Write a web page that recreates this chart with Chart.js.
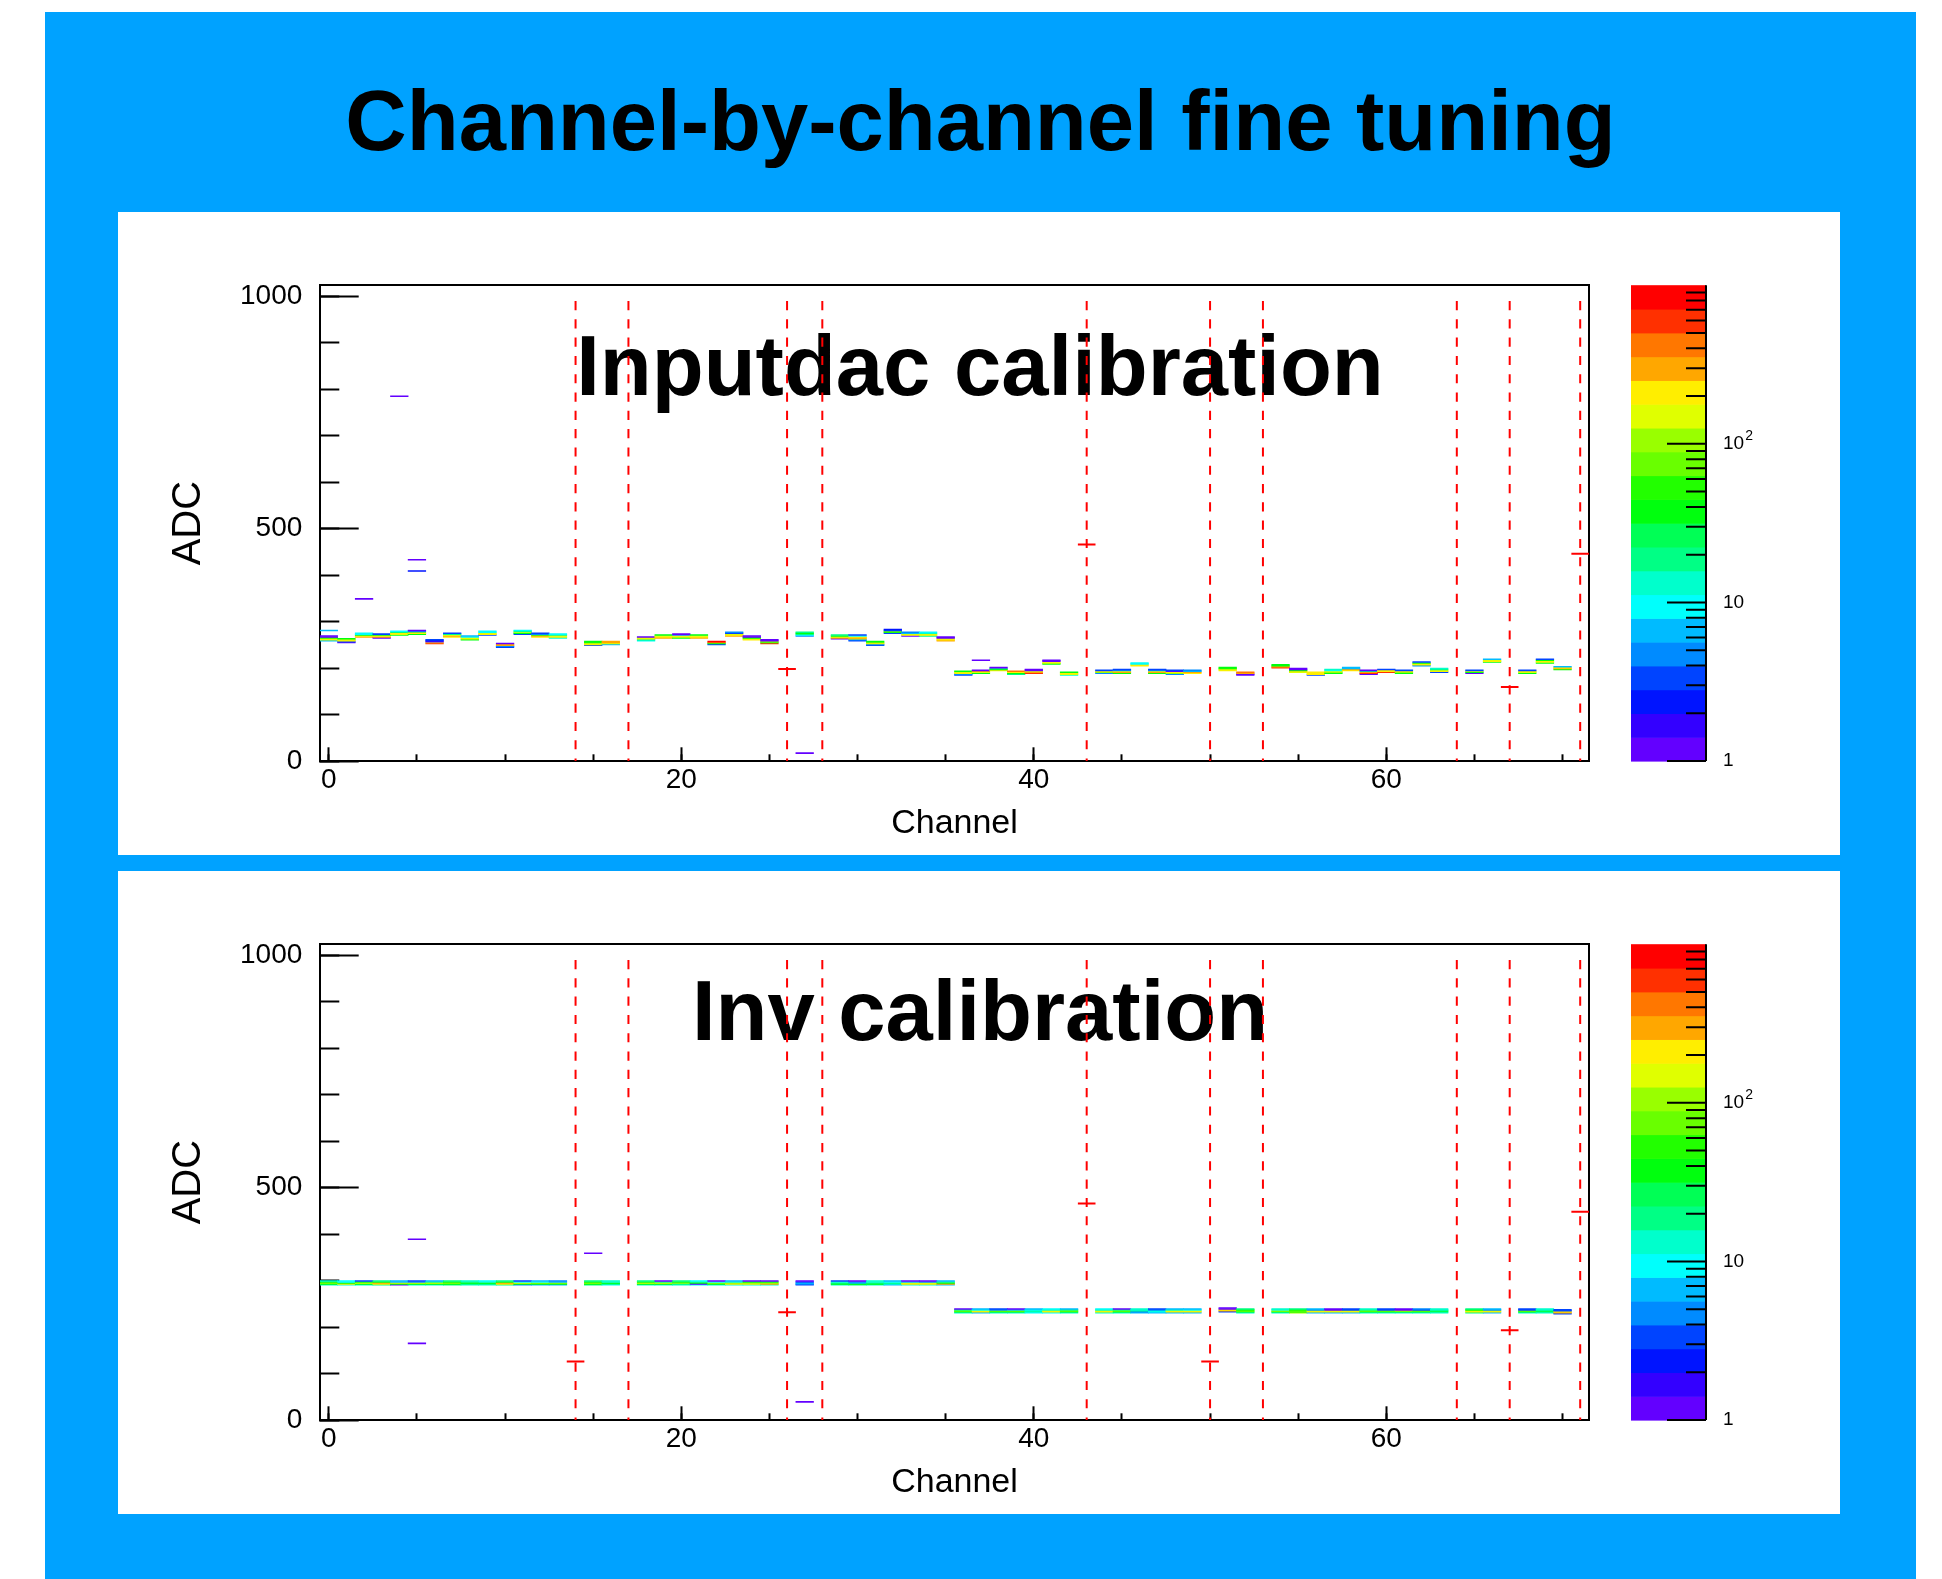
<!DOCTYPE html>
<html>
<head>
<meta charset="utf-8">
<title>Channel-by-channel fine tuning</title>
<script src="https://cdn.jsdelivr.net/npm/chart.js@4.4.1/dist/chart.umd.min.js"></script>
<style>
  html, body { margin: 0; padding: 0; background: #ffffff; }
  body { width: 1942px; height: 1579px; position: relative; overflow: hidden;
         font-family: "Liberation Sans", Arial, Helvetica, sans-serif; }
  #slide { position: absolute; left: 45px; top: 12px; width: 1871px; height: 1567px; background: #00A2FF; }
  .title { position: absolute; left: 45px; width: 1871px; text-align: center; font-weight: bold;
           color: #000; white-space: nowrap; font-size: 85px; line-height: 85px; }
  #mainTitle { top: 78px; }
  .panel { position: absolute; left: 118px; width: 1722px; height: 643px; background: #ffffff; }
  .ptitle { position: absolute; left: 0; width: 1724px; text-align: center; font-weight: bold; color: #000;
            white-space: nowrap; font-size: 85px; line-height: 85px; z-index: 0; }
  .panel canvas { position: absolute; left: 0; top: 0; z-index: 1; }
</style>
</head>
<body>
<div id="slide"></div>
<div class="title" id="mainTitle">Channel-by-channel fine tuning</div>

<div class="panel" style="top:212px">
  <div class="ptitle" style="top:111px">Inputdac calibration</div>
  <canvas id="inputdacChart" width="1722" height="643"></canvas>
</div>

<div class="panel" style="top:871px">
  <div class="ptitle" style="top:97px">Inv calibration</div>
  <canvas id="invChart" width="1722" height="643"></canvas>
</div>

<script>
// ---------------------------------------------------------------------------
// Data
// ---------------------------------------------------------------------------
const channels = [0,1,2,3,4,5,6,7,8,9,10,11,12,13,14,15,16,17,18,19,20,21,22,23,24,25,26,27,28,29,
  30,31,32,33,34,35,36,37,38,39,40,41,42,43,44,45,46,47,48,49,50,51,52,53,54,55,56,57,58,59,
  60,61,62,63,64,65,66,67,68,69,70,71];

// masked channels, marked with dashed red guides
const deadChannels = [14, 17, 26, 28, 43, 50, 53, 64, 67, 71];

// ADC histogram bin width
const ADC_BIN = 2;

// Inputdac calibration: lowest filled ADC bin per channel (null = masked)
const inputdacLow = [258,254,266,264,270,272,252,266,260,270,244,272,266,264,null,248,250,null,258,264,
  264,264,250,268,260,252,null,268,null,262,258,248,274,268,268,258,184,188,194,186,
  188,208,184,null,188,188,204,188,186,188,null,194,184,null,200,190,184,188,194,186,
  190,188,204,190,null,188,212,null,188,210,196,null];

// entries per ADC bin, from the lowest filled bin upward
const inputdacCounts = [
  [7,150,250,60,1,1], [1,3,250,130,40], [300,250,40,10,10], [1,350,200,40,3], [40,150,250,30,10],
  [40,250,100,5,1], [700,200,1,2,3], [220,300,150,20,3], [40,220,150,8,7], [3,220,150,10,10],
  [3,5,350,300,1], [3,40,150,20,10], [220,300,60,5,3], [14,220,150,20,10], null,
  [3,220,150,50,40], [7,150,300,350], null, [10,20,220,150,1], [300,220,150,40],
  [40,150,220,5,1], [300,220,150,40], [3,40,300,800], [300,220,150,3,5], [220,150,40,1,1],
  [700,40,100,1,1], null, [5,10,20,40,20], null, [1,300,150,40,20],
  [3,5,150,300,220,10,3], [3,5,220,110,40], [3,40,75,3,2], [1,220,150,7,5], [20,220,150,14,10],
  [300,220,150,1,1], [3,5,220,150,40], [40,150,300,1], [220,40,20,1], [20,40,220,500],
  [700,300,150,1,1], [40,150,220,1,1], [14,150,220,40], null, [5,110,220,3],
  [40,300,250,5,3], [220,250,10,10], [40,300,220,5,3], [5,110,250,1,3], [220,300,7,5],
  null, [220,150,50,40], [1,1,300,400], null, [600,300,40,40],
  [150,220,40,1,1], [3,220,250,220], [40,110,150,10,14], [250,300,7,7], [1,600,300,20,1],
  [700,250,220,3], [40,110,220,3], [5,150,220,40,3], [3,220,150,20,14], null,
  [1,40,150,3], [40,220,150,7], null, [40,150,220,3], [40,150,220,40,3],
  [40,300,220,7], null
];

// isolated entries: [channel, ADC bin, entries]
const inputdacStray = [[0,280,7], [2,348,1], [4,784,1], [5,432,1], [5,408,2], [27,16,1], [37,216,1]];

// reference levels of the masked channels
const inputdacMarkCh  = [26, 43, 67, 71];
const inputdacMarkAdc = [198, 466, 159, 446];

// Inv calibration
const invLow = [290,290,290,290,290,290,290,290,290,290,290,290,290,290,null,290,290,null,290,290,
  290,290,290,290,290,290,null,290,null,290,290,290,290,290,290,290,230,230,230,230,
  230,230,230,null,230,230,230,230,230,230,null,232,230,null,230,230,230,230,230,230,
  230,230,230,230,null,230,230,null,230,230,228,null];

const invCounts = [
  [14,40,110,40,14], [14,220,40,10,10], [14,40,150,40,3], [20,220,300,40,20], [1,40,150,7,7],
  [14,40,150,5,3], [14,40,150,20,7], [20,40,110,40,20], [14,20,40,20,14], [14,20,40,14,10],
  [20,220,300,40,20], [5,40,150,10,3], [7,40,110,10,7], [7,40,110,7,5], null,
  [20,40,110,40,20], [10,20,40,14,14], null, [14,40,150,40,20], [14,40,150,20,1],
  [14,20,110,40,20], [10,1,40,20,10], [14,40,110,10,1], [14,220,110,14,7], [14,220,110,40,1],
  [14,300,110,40,1], null, [3,5,7,3,1], null, [14,40,20,14,3],
  [20,40,7,5,1], [14,40,20,14,14], [7,14,20,10,7], [14,220,150,7,1], [14,220,150,5,1],
  [7,300,40,20,7], [14,40,110,20,1], [7,220,150,10,7], [14,40,110,5,3], [14,40,110,7,1],
  [10,14,20,10,7], [10,220,150,14,10], [14,40,110,20,7], null, [14,220,150,14,10],
  [14,40,110,20,1], [7,5,20,14,14], [7,10,14,5,3], [7,220,150,14,7], [7,220,150,10,7],
  null, [3,300,220,1,1], [14,40,110,40,20], null, [14,40,150,14,14],
  [110,40,110,40,20], [7,220,150,5,7], [7,220,150,1,1], [7,220,150,3,3], [14,40,110,20,14],
  [14,40,110,3,3], [14,40,150,1,1], [14,40,110,3,5], [14,20,40,14,14], null,
  [20,220,150,40,20], [7,220,150,5,7], null, [14,40,110,3,3], [14,20,40,14,14],
  [3,300,220,3,3], null
];

const invStray = [[5,388,1], [5,164,1], [15,358,1], [27,38,1]];

const invMarkCh  = [14, 26, 43, 50, 67, 71];
const invMarkAdc = [126, 232, 466, 126, 193, 448];

// axis ticks
const xMajorTicks = [0, 20, 40, 60];
const xMinorTicks = [0, 5, 10, 15, 20, 25, 30, 35, 40, 45, 50, 55, 60, 65, 70];
const yMajorTicks = [0, 500, 1000];
const yMinorTicks = [0, 100, 200, 300, 400, 500, 600, 700, 800, 900, 1000];
const zTickLabels = [[1, '1', ''], [10, '10', ''], [100, '10', '2']];

// ---------------------------------------------------------------------------
// Styling
// ---------------------------------------------------------------------------
const palette = ['#6300FF','#3300FF','#0014FF','#0044FF','#008BFF','#00BBFF','#00FFFC','#00FFCC',
  '#00FF85','#00FF55','#00FF0E','#22FF00','#69FF00','#99FF00','#E0FF00','#FFEE00',
  '#FFA700','#FF7700','#FF3000','#FF0000'];
const Z_MIN = 1, Z_MAX = 1000;
const DASH_TOP = 990;
const FONT = "'Liberation Sans', Arial, Helvetica, sans-serif";

Chart.defaults.font.family = FONT;
Chart.defaults.color = '#000';

function levelOf(n) {
  const t = Math.log10(n / Z_MIN) / Math.log10(Z_MAX / Z_MIN) * palette.length;
  return Math.max(0, Math.min(palette.length - 1, Math.floor(t + 1e-9)));
}

const fixedTicks = (values) => (scale) => { scale.ticks = values.map(v => ({value: v})); };

// colour scale drawn next to the frame, positioned through the hidden log axis "z"
const colorBar = {
  id: 'colorBar',
  afterDraw(chart) {
    const z = chart.scales.z, ctx = chart.ctx, area = chart.chartArea;
    const x0 = area.right + 42, w = 75, xr = x0 + w;
    const n = palette.length;
    ctx.save();
    for (let j = 0; j < n; j++) {
      const lo = Z_MIN * Math.pow(Z_MAX / Z_MIN, j / n);
      const hi = Z_MIN * Math.pow(Z_MAX / Z_MIN, (j + 1) / n);
      const yTop = z.getPixelForValue(hi), yBot = z.getPixelForValue(lo);
      ctx.fillStyle = palette[j];
      ctx.fillRect(x0, yTop, w, yBot - yTop + 0.6);
    }
    ctx.strokeStyle = '#000';
    ctx.lineWidth = 2;
    ctx.beginPath();
    ctx.moveTo(xr, area.top); ctx.lineTo(xr, area.bottom);
    for (let d = 1; d < Z_MAX; d *= 10) {
      for (let m = 1; m <= 9; m++) {
        const v = d * m;
        if (v >= Z_MAX) break;
        const y = z.getPixelForValue(v);
        const len = m === 1 ? 39 : 20;
        ctx.moveTo(xr - len, y); ctx.lineTo(xr, y);
      }
    }
    ctx.stroke();
    ctx.fillStyle = '#000';
    ctx.textBaseline = 'middle';
    ctx.textAlign = 'left';
    zTickLabels.forEach(([v, base, sup]) => {
      const y = z.getPixelForValue(v);
      ctx.font = '19px ' + FONT;
      ctx.fillText(base, xr + 17, y);
      if (sup) {
        const bw = ctx.measureText(base).width;
        ctx.font = '14px ' + FONT;
        ctx.fillText(sup, xr + 18 + bw, y - 8);
      }
    });
    ctx.restore();
  }
};

function histogramChart(canvasId, low, counts, stray, markCh, markAdc) {
  const cells = [], cellColors = [];
  channels.forEach((ch, i) => {
    if (low[i] === null) return;
    counts[i].forEach((n, k) => {
      const a = low[i] + k * ADC_BIN;
      cells.push({x: ch, y: [a, a + ADC_BIN]});
      cellColors.push(palette[levelOf(n)]);
    });
  });
  stray.forEach(([ch, a, n]) => {
    cells.push({x: ch, y: [a, a + ADC_BIN]});
    cellColors.push(palette[levelOf(n)]);
  });

  const datasets = [{
    type: 'bar', data: cells, backgroundColor: cellColors, borderWidth: 0,
    barPercentage: 1, categoryPercentage: 1, order: 3, xAxisID: 'x', yAxisID: 'y'
  }];
  deadChannels.forEach(ch => datasets.push({
    type: 'line', data: [{x: ch, y: DASH_TOP}, {x: ch, y: 0}],
    borderColor: '#FF0000', borderWidth: 2, borderDash: [9.15, 9.15],
    pointRadius: 0, fill: false, order: 2, xAxisID: 'x', yAxisID: 'y'
  }));
  markCh.forEach((ch, i) => datasets.push({
    type: 'line', data: [{x: ch - 0.5, y: markAdc[i]}, {x: ch + 0.5, y: markAdc[i]}],
    borderColor: '#FF0000', borderWidth: 2, pointRadius: 0, fill: false, order: 1,
    xAxisID: 'x', yAxisID: 'y'
  }));

  const xRange = {type: 'linear', min: -0.5, max: 71.5, offset: false};
  const yRange = {type: 'linear', min: 0, max: 1024};
  const tickGrid = (len) => ({display: true, offset: false, drawOnChartArea: false, drawTicks: true,
                              tickLength: len, tickWidth: 2, tickColor: '#000'});

  return new Chart(document.getElementById(canvasId), {
    type: 'bar',
    data: {datasets},
    options: {
      responsive: false, animation: false, events: [],
      layout: {padding: {top: 69, right: 251, bottom: 0, left: 0}},
      plugins: {legend: {display: false}, tooltip: {enabled: false}},
      scales: {
        x: Object.assign({}, xRange, {
          position: 'bottom', weight: 0,
          ticks: {display: false},
          afterBuildTicks: fixedTicks(xMinorTicks),
          grid: tickGrid(-6.7),
          border: {display: true, color: '#000', width: 2},
          afterFit: s => { s.height = 0; }
        }),
        xMaj: Object.assign({}, xRange, {
          position: 'bottom', weight: 1,
          ticks: {autoSkip: false, maxRotation: 0, font: {size: 28}, color: '#000', padding: 15.9,
                  callback: v => String(v)},
          afterBuildTicks: fixedTicks(xMajorTicks),
          grid: tickGrid(-13.7),
          border: {display: false},
          title: {display: true, text: 'Channel', font: {size: 34}, color: '#000', padding: {top: 0, bottom: 11}},
          afterFit: s => { s.height = 94; }
        }),
        xT: Object.assign({}, xRange, {
          position: 'top', weight: 0,
          ticks: {display: false},
          grid: {display: true, offset: false, drawOnChartArea: false, drawTicks: false},
          border: {display: true, color: '#000', width: 2},
          afterFit: s => { s.height = 0; }
        }),
        y: Object.assign({}, yRange, {
          position: 'left', weight: 0,
          ticks: {display: false},
          afterBuildTicks: fixedTicks(yMinorTicks),
          grid: tickGrid(-19.3),
          border: {display: true, color: '#000', width: 2},
          afterFit: s => { s.width = 0; }
        }),
        yMaj: Object.assign({}, yRange, {
          position: 'left', weight: 1,
          ticks: {font: {size: 28}, color: '#000', padding: 56.4, callback: v => String(v)},
          afterBuildTicks: fixedTicks(yMajorTicks),
          grid: tickGrid(-38.7),
          border: {display: false},
          title: {display: true, text: 'ADC', font: {size: 40}, color: '#000', padding: {top: 46.5, bottom: 0}},
          afterFit: s => { s.width = 202; }
        }),
        yR: Object.assign({}, yRange, {
          position: 'right', weight: 0,
          ticks: {display: false},
          grid: {display: true, drawOnChartArea: false, drawTicks: false},
          border: {display: true, color: '#000', width: 2},
          afterFit: s => { s.width = 0; }
        }),
        z: {type: 'logarithmic', axis: 'y', position: 'right', weight: 1, display: false, min: Z_MIN, max: Z_MAX}
      }
    },
    plugins: [colorBar]
  });
}

histogramChart('inputdacChart', inputdacLow, inputdacCounts, inputdacStray, inputdacMarkCh, inputdacMarkAdc);
histogramChart('invChart', invLow, invCounts, invStray, invMarkCh, invMarkAdc);
</script>
</body>
</html>
